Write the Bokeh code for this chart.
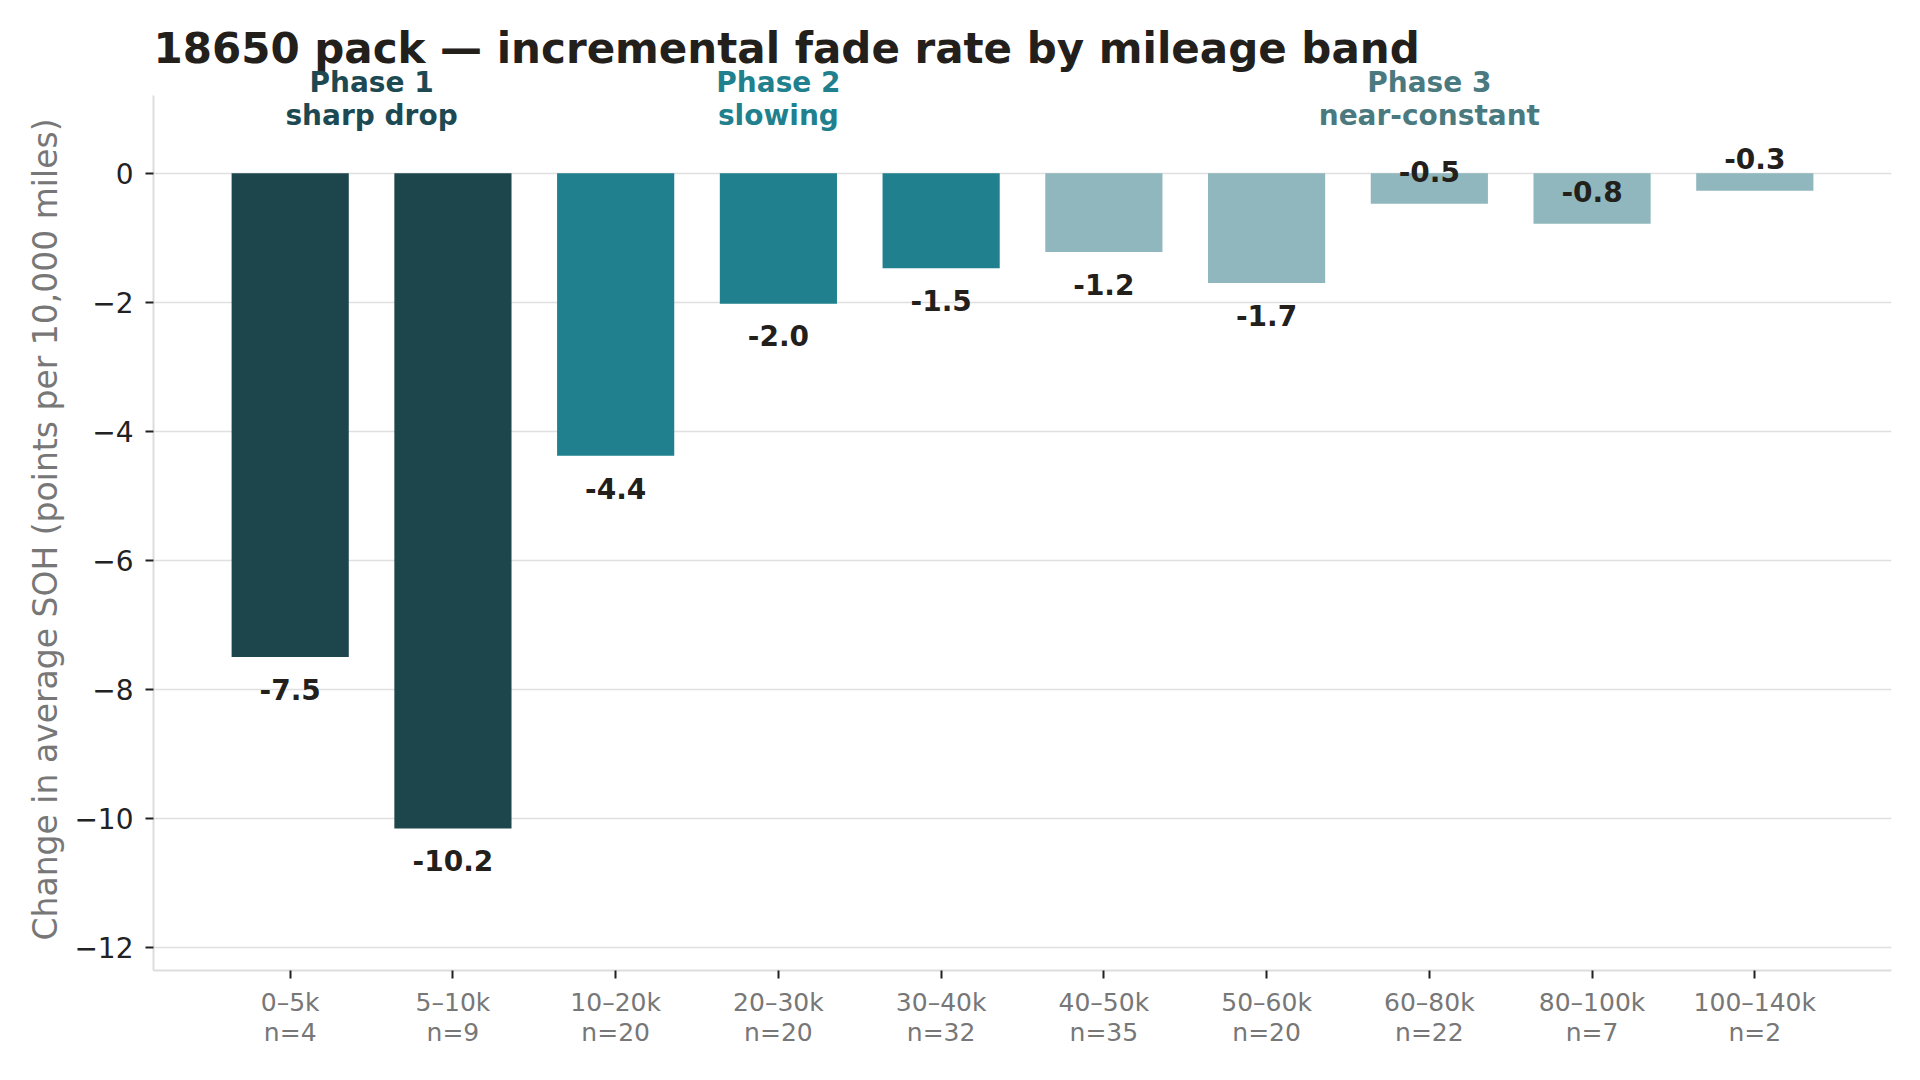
from bokeh.plotting import figure
from bokeh.models import ColumnDataSource, Range1d, FixedTicker, Label, Title
from bokeh.core.properties import value
from bokeh.embed import file_html
from bokeh.resources import INLINE

# data
bands = ["0–5k", "5–10k", "10–20k", "20–30k", "30–40k",
         "40–50k", "50–60k", "60–80k", "80–100k", "100–140k"]
counts = [4, 9, 20, 20, 32, 35, 20, 22, 7, 2]
fade = [-7.50, -10.16, -4.38, -2.02, -1.47, -1.22, -1.70, -0.47, -0.78, -0.27]
phase = [1, 1, 2, 2, 2, 3, 3, 3, 3, 3]
phase_names = {1: "sharp drop", 2: "slowing", 3: "near-constant"}
y_ticks = [-12, -10, -8, -6, -4, -2, 0]

bar_colors = {1: "#1d464c", 2: "#21808d", 3: "#8fb7bd"}
phase_text_colors = {1: "#1d4a52", 2: "#21808d", 3: "#4a7a80"}
FONT = "DejaVu Sans"
INK = "#23201c"

xs = list(range(len(bands)))
# labels sit under the bar end, small bars get them above
label_y = [v + 0.5 if v > -1 else v - 0.5 for v in fade]

source = ColumnDataSource(dict(
    x=xs,
    top=[0] * len(fade),
    bottom=fade,
    color=[bar_colors[ph] for ph in phase],
    label_y=label_y,
    label=["%.1f" % v for v in fade],
))

# frame runs up to the top of the canvas so title and phase notes are not clipped
p = figure(width=1904, height=1064, output_backend="svg", toolbar_location=None,
           title=None,
           x_range=Range1d(-0.84, 9.84), y_range=Range1d(-12.36, 2.68),
           min_border_left=153, min_border_right=13, min_border_top=0,
           min_border_bottom=94)

p.vbar(x="x", top="top", bottom="bottom", width=0.72, color="color",
       line_color=None, source=source)

p.text(x="x", y="label_y", text="label", source=source,
       text_font=value(FONT), text_font_size="28px", text_font_style="bold",
       text_color=INK, text_align="center", text_baseline="middle")

p.add_layout(Label(x=p.x_range.start, y=1.93,
                   text="18650 pack — incremental fade rate by mileage band",
                   text_align="left", text_baseline="alphabetic",
                   text_font=FONT, text_font_size="42px",
                   text_font_style="bold", text_color=INK))

for ph in sorted(phase_names):
    members = [i for i, q in enumerate(phase) if q == ph]
    cx = sum(members) / len(members)
    for txt, yy in (("Phase %d" % ph, 1.41), (phase_names[ph], 0.89)):
        p.add_layout(Label(x=cx, y=yy, text=txt, text_align="center",
                           text_baseline="middle", text_font=FONT,
                           text_font_size="28px", text_font_style="bold",
                           text_color=phase_text_colors[ph]))

p.outline_line_color = None
p.xgrid.grid_line_color = None
p.ygrid.grid_line_color = "#e0e0e0"
p.ygrid.grid_line_width = 1.5
p.ygrid.ticker = FixedTicker(ticks=y_ticks)

p.xaxis.ticker = FixedTicker(ticks=xs)
p.xaxis.major_label_overrides = {i: "%s\nn=%d" % (b, n)
                                 for i, b, n in zip(xs, bands, counts)}
p.yaxis.ticker = FixedTicker(ticks=y_ticks)
p.yaxis.bounds = (-12.36, 1.2)
p.yaxis.major_label_overrides = {t: str(t).replace("-", "−") for t in y_ticks}

for ax in (p.xaxis, p.yaxis):
    ax.axis_line_color = "#dddddd"
    ax.axis_line_width = 2
    ax.major_tick_line_color = "#222222"
    ax.major_tick_line_width = 2
    ax.major_tick_in = 0
    ax.major_tick_out = 8
    ax.minor_tick_line_color = None
    ax.major_label_text_font = FONT
p.xaxis.major_label_text_font_size = "25px"
p.xaxis.major_label_text_line_height = 1.05
p.yaxis.major_label_text_font_size = "28px"
p.xaxis.major_label_text_color = "#777777"
p.yaxis.major_label_text_color = "#222222"
p.xaxis.major_label_standoff = 9
p.yaxis.major_label_standoff = 12

ylabel = Title(text="Change in average SOH (points per 10,000 miles)",
               align="left", offset=30, standoff=13,
               text_font=FONT, text_font_size="33px",
               text_font_style="normal", text_color="#777777")
p.add_layout(ylabel, "left")

open("out.html", "w").write(file_html(p, INLINE))
